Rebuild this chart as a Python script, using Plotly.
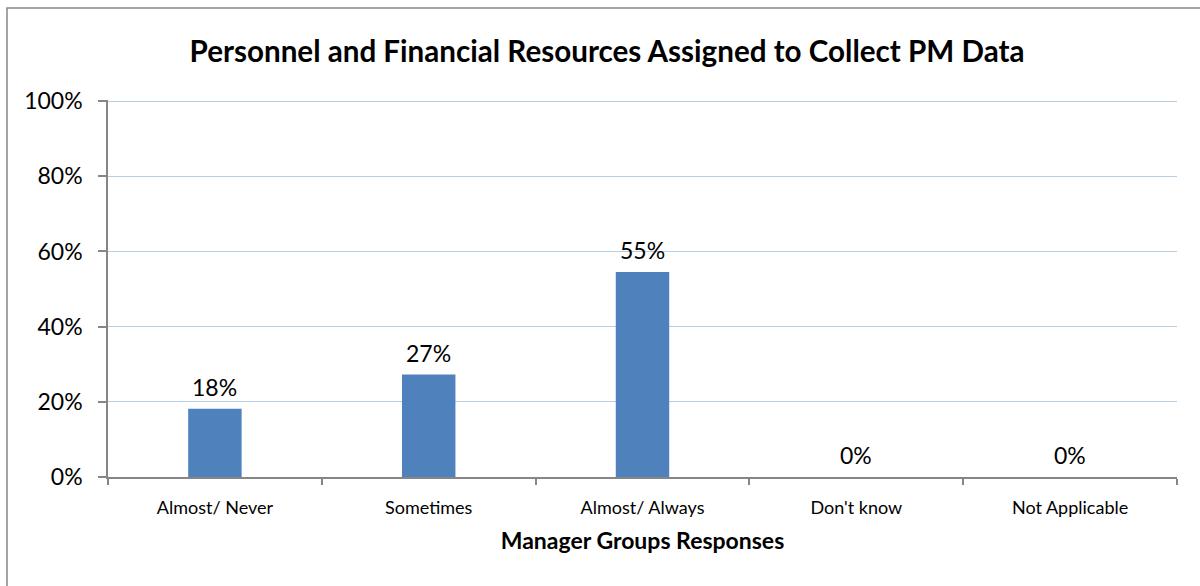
import plotly.graph_objects as go

categories = ["Almost/ Never", "Sometimes", "Almost/ Always", "Don't know", "Not Applicable"]
values = [18.18, 27.27, 54.55, 0.0, 0.0]
y_ticks = [0, 20, 40, 60, 80, 100]
y_tick_labels = ["0%", "20%", "40%", "60%", "80%", "100%"]
title_text = "Personnel and Financial Resources Assigned to Collect PM Data"
x_title = "Manager Groups Responses"

FONT = "Lato, 'Open Sans', sans-serif"
BAR = "#4F81BD"
AXIS = "#868686"
GRID = "#B9CDE5"

fig = go.Figure()
fig.add_trace(go.Bar(x=categories, y=values, marker=dict(color=BAR, line=dict(width=0)),
                     width=0.25, hoverinfo="x+y"))

for c, v in zip(categories, values):
    fig.add_annotation(x=c, y=v, xref="x", yref="y", text=f"{v:.0f}%", showarrow=False,
                       yanchor="bottom", yshift=6, font=dict(family=FONT, size=23, color="#000"))

L, R, T, B = 108, 1177, 100, 477
W, H = 1200, 586
pw, ph = R - L, B - T

fig.update_layout(
    width=W, height=H,
    margin=dict(l=L, r=W - R, t=T, b=H - B, pad=0),
    paper_bgcolor="white", plot_bgcolor="white",
    showlegend=False,
    title=dict(text=f"<b>{title_text}</b>", x=(607) / W, xanchor="center",
               y=1 - 52 / H, yanchor="middle",
               font=dict(family=FONT, size=29.6, color="#000")),
    xaxis=dict(type="category", showgrid=False, showline=True, linecolor=AXIS, linewidth=1.5,
               ticks="outside", tickson="boundaries", ticklen=6, tickcolor=AXIS, tickwidth=1.5,
               ticklabelstandoff=14,
               tickfont=dict(family=FONT, size=18, color="#000"),
               title=dict(text=f"<b>{x_title}</b>", font=dict(family=FONT, size=23, color="#000"),
                          standoff=16),
               fixedrange=True),
    yaxis=dict(range=[0, 100.3], tickvals=y_ticks, ticktext=y_tick_labels,
               showgrid=True, gridcolor=GRID, gridwidth=1.2,
               showline=True, linecolor=AXIS, linewidth=1.5,
               ticks="outside", ticklen=8, tickcolor=AXIS, tickwidth=1.5,
               ticklabelstandoff=11,
               tickfont=dict(family=FONT, size=23, color="#000"),
               zeroline=False, fixedrange=True),
    shapes=[dict(type="rect", xref="paper", yref="paper",
                 x0=(7 - L) / pw, x1=(W + 20 - L) / pw,
                 y0=(B - (H + 20)) / ph, y1=(B - 8) / ph,
                 line=dict(color=AXIS, width=1.5), fillcolor="rgba(0,0,0,0)", layer="below")],
)

fig.write_html("out.html")
